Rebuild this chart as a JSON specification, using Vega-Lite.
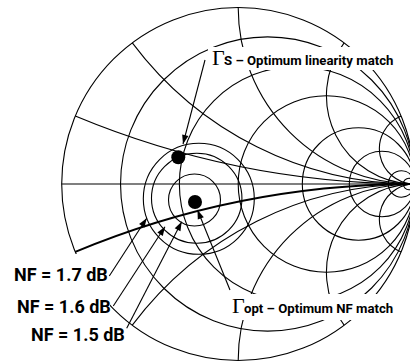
{
  "$schema": "https://vega.github.io/schema/vega-lite/v6.json",
  "width": 410,
  "height": 363,
  "padding": 0,
  "autosize": {"type": "none"},
  "background": "white",
  "config": {"view": {"stroke": null}},
  "encoding": {
    "x": {"field": "u", "type": "quantitative", "scale": {"domain": [-1.34958, 0.97337], "nice": false, "zero": false}, "axis": null},
    "y": {"field": "v", "type": "quantitative", "scale": {"domain": [-1.01416, 1.04249], "nice": false, "zero": false}, "axis": null}
  },
  "layer": [
    {
      "data": {"values": [
        {"u": 0, "v": 0, "rad": 1, "t1": 0, "t2": 360},
        {"u": 0.16667, "v": 0, "rad": 0.83333, "t1": 0, "t2": 360},
        {"u": 0.33333, "v": 0, "rad": 0.66667, "t1": 0, "t2": 360},
        {"u": 0.5, "v": 0, "rad": 0.5, "t1": 0, "t2": 360},
        {"u": 0.6816, "v": 0, "rad": 0.3184, "t1": 0, "t2": 360},
        {"u": 0.8147, "v": 0, "rad": 0.1853, "t1": 0, "t2": 360},
        {"u": 0.9252, "v": 0, "rad": 0.0748, "t1": 0, "t2": 360},
        {"u": 0.9677, "v": 0, "rad": 0.0323, "t1": 0, "t2": 360},
        {"u": 1, "v": 5, "rad": 5, "t1": 180, "t2": 202.62},
        {"u": 1, "v": 2, "rad": 2, "t1": 180, "t2": 233.13},
        {"u": 1, "v": 1, "rad": 1, "t1": 180, "t2": 270},
        {"u": 1, "v": 0.5, "rad": 0.5, "t1": 180, "t2": 306.87},
        {"u": 1, "v": 0.2, "rad": 0.2, "t1": 180, "t2": 337.38},
        {"u": 1, "v": -2, "rad": 2, "t1": -53.13, "t2": 0},
        {"u": 1, "v": -1, "rad": 1, "t1": -90, "t2": 0},
        {"u": 1, "v": -0.5, "rad": 0.5, "t1": -126.87, "t2": 0},
        {"u": 1, "v": -0.2, "rad": 0.2, "t1": -157.38, "t2": 0},
        {"u": -0.2476, "v": -0.0907, "rad": 0.1473, "t1": 0, "t2": 360},
        {"u": -0.2351, "v": -0.081, "rad": 0.255, "t1": 0, "t2": 360},
        {"u": -0.2232, "v": -0.0839, "rad": 0.3144, "t1": 0, "t2": 360}
      ]},
      "mark": {"type": "arc", "filled": false, "stroke": "black", "strokeWidth": 1.1},
      "encoding": {
        "theta": {"field": "t1", "type": "quantitative", "stack": null, "scale": {"type": "linear", "domain": [0, 360], "range": [0, 6.283185307179586], "zero": true}},
        "theta2": {"field": "t2"},
        "radius": {"field": "rad", "type": "quantitative", "scale": {"type": "linear", "domain": [0, 1], "range": [0, 176.5], "zero": true}},
        "radius2": {"field": "rad"}
      }
    },
    {
      "data": {"values": [
        {"u": 1, "v": -5, "rad": 5, "t1": -22.62, "t2": 0}
      ]},
      "mark": {"type": "arc", "filled": false, "stroke": "black", "strokeWidth": 2},
      "encoding": {
        "theta": {"field": "t1", "type": "quantitative", "stack": null, "scale": {"type": "linear", "domain": [0, 360], "range": [0, 6.283185307179586], "zero": true}},
        "theta2": {"field": "t2"},
        "radius": {"field": "rad", "type": "quantitative", "scale": {"type": "linear", "domain": [0, 1], "range": [0, 176.5], "zero": true}},
        "radius2": {"field": "rad"}
      }
    },
    {
      "data": {"values": [{"u": -1, "v": 0}, {"u": 1, "v": 0}]},
      "mark": {"type": "line", "color": "black", "strokeWidth": 1.1},
      "encoding": {}
    },
    {
      "data": {"values": [
        {"u": -0.1711, "u2": 0.877, "v": 0.7762, "v2": 0.6459},
        {"u": -0.0578, "u2": 0.8714, "v": -0.6232, "v2": -0.7705},
        {"u": -1.3042, "u2": -0.7263, "v": -0.3966, "v2": -0.9122}
      ]},
      "mark": {"type": "rect", "color": "white"},
      "encoding": {"x2": {"field": "u2"}, "y2": {"field": "v2"}}
    },
    {
      "data": {"values": [
        {"id": "s", "k": 0, "u": -0.1881, "v": 0.7025},
        {"id": "s", "k": 1, "u": -0.3127, "v": 0.2266},
        {"id": "o", "k": 0, "u": -0.0465, "v": -0.6006},
        {"id": "o", "k": 1, "u": -0.2306, "v": -0.1473},
        {"id": "n7", "k": 0, "u": -0.7303, "v": -0.5212},
        {"id": "n7", "k": 1, "u": -0.5184, "v": -0.1943},
        {"id": "n6", "k": 0, "u": -0.7076, "v": -0.6912},
        {"id": "n6", "k": 1, "u": -0.4147, "v": -0.2419},
        {"id": "n5", "k": 0, "u": -0.6317, "v": -0.8176},
        {"id": "n5", "k": 1, "u": -0.3201, "v": -0.2136}
      ]},
      "mark": {"type": "line", "color": "black", "strokeWidth": 1.1},
      "encoding": {"detail": {"field": "id"}, "order": {"field": "k", "type": "quantitative"}}
    },
    {
      "data": {"values": [
        {"u": -0.3127, "v": 0.2266, "a": -165.3},
        {"u": -0.2306, "v": -0.1473, "a": -21.6},
        {"u": -0.5184, "v": -0.1943, "a": 33.0},
        {"u": -0.4147, "v": -0.2419, "a": 33.1},
        {"u": -0.3201, "v": -0.2136, "a": 27.3}
      ]},
      "mark": {"type": "point", "shape": "M0,0L-0.36,1L0.36,1Z", "filled": true, "color": "black", "size": 324, "opacity": 1},
      "encoding": {"angle": {"field": "a", "type": "quantitative", "scale": null}}
    },
    {
      "data": {"values": [
        {"u": -0.3394, "v": 0.1513},
        {"u": -0.2448, "v": -0.102}
      ]},
      "mark": {"type": "point", "shape": "circle", "filled": true, "color": "black", "size": 196, "opacity": 1}
    },
    {
      "data": {"values": [
        {"u": -1.2703, "v": -0.5496, "t": "NF = 1.7 dB"},
        {"u": -1.2533, "v": -0.7326, "t": "NF = 1.6 dB"},
        {"u": -1.174, "v": -0.8895, "t": "NF = 1.5 dB"}
      ]},
      "mark": {"type": "text", "align": "left", "baseline": "alphabetic", "font": "Roboto", "fontWeight": "bold", "fontSize": 18, "color": "black"},
      "encoding": {"text": {"field": "t"}}
    },
    {
      "data": {"values": [
        {"u": -0.1484, "v": 0.6742, "t": "Γ"},
        {"u": -0.0351, "v": -0.7337, "t": "Γ"}
      ]},
      "mark": {"type": "text", "align": "left", "baseline": "alphabetic", "font": "Liberation Serif, DejaVu Serif, serif", "fontSize": 22, "color": "black"},
      "encoding": {"text": {"field": "t"}}
    },
    {
      "data": {"values": [
        {"u": -0.0805, "v": 0.6742, "t": "S – Optimum linearity match"},
        {"u": 0.0329, "v": -0.7337, "t": "opt – Optimum NF match"}
      ]},
      "mark": {"type": "text", "align": "left", "baseline": "alphabetic", "font": "Roboto", "fontWeight": "bold", "fontSize": 13.2, "color": "black"},
      "encoding": {"text": {"field": "t"}}
    }
  ]
}
